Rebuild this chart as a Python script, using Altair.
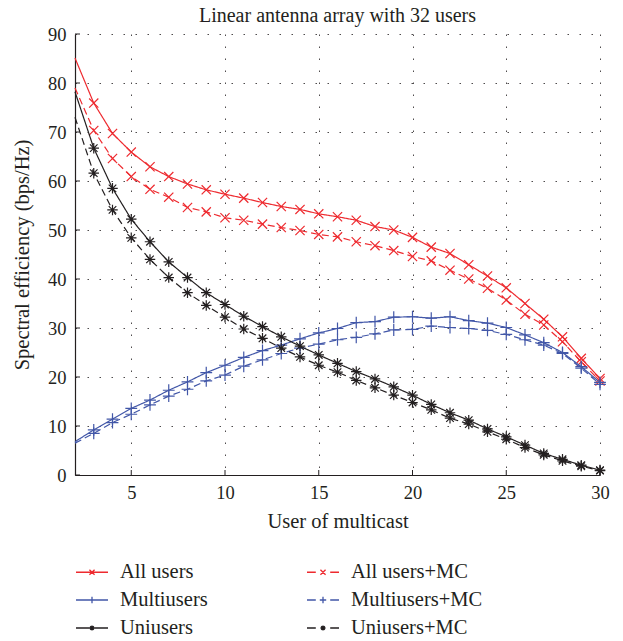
import altair as alt
import pandas as pd

# ---- data ----
users = list(range(2, 31))

series_names = ["All users", "All users+MC", "Multiusers", "Multiusers+MC", "Uniusers", "Uniusers+MC"]

all_users = [85.1, 75.9, 69.7, 65.9, 62.9, 60.9, 59.4, 58.2, 57.3, 56.5, 55.6, 54.8, 54.2, 53.3,
             52.7, 52.0, 50.7, 50.0, 48.5, 46.5, 45.2, 42.9, 40.6, 38.2, 35.0, 31.8, 28.2, 23.8, 19.7]
all_users_mc = [79.0, 70.3, 64.6, 60.9, 58.3, 56.7, 54.6, 53.7, 52.5, 52.0, 51.2, 50.5, 49.9, 49.1,
                48.6, 47.6, 46.8, 45.8, 44.6, 43.7, 41.8, 40.0, 38.1, 35.7, 32.8, 30.6, 27.2, 23.1, 19.2]
multiusers = [6.8, 9.2, 11.4, 13.6, 15.3, 17.3, 19.0, 20.9, 22.4, 24.0, 25.4, 26.5, 27.8, 29.0,
              29.9, 31.1, 31.3, 32.2, 32.3, 32.0, 32.3, 31.5, 31.0, 30.1, 28.6, 27.0, 25.0, 22.1, 18.9]
multiusers_mc = [6.5, 8.5, 10.7, 12.4, 14.3, 16.1, 17.5, 19.2, 20.4, 22.2, 23.5, 24.8, 25.9, 26.7,
                 27.6, 28.1, 28.8, 29.6, 29.7, 30.4, 30.1, 29.9, 29.5, 28.7, 27.6, 26.5, 24.8, 21.8, 18.5]
uniusers = [78.2, 66.7, 58.5, 52.2, 47.6, 43.5, 40.3, 37.2, 34.8, 32.4, 30.3, 28.2, 26.3, 24.5,
            22.8, 21.1, 19.6, 18.0, 16.3, 14.4, 12.7, 11.2, 9.4, 7.8, 6.1, 4.4, 3.2, 2.0, 1.0]
uniusers_mc = [73.0, 61.6, 54.1, 48.4, 44.0, 40.3, 37.2, 34.6, 32.2, 29.8, 27.9, 25.9, 24.1, 22.4,
               21.0, 19.3, 17.8, 16.3, 14.8, 13.3, 11.6, 10.4, 8.8, 7.3, 5.6, 4.1, 2.9, 1.8, 0.9]

x_ticks = [5, 10, 15, 20, 25, 30]
y_ticks = [0, 10, 20, 30, 40, 50, 60, 70, 80, 90]

# ---- styles ----
RED, BLUE, BLACK = "#ee2a2f", "#4257a8", "#231f20"
colors = [RED, RED, BLUE, BLUE, BLACK, BLACK]
dashes = [[1, 0], [7, 4], [1, 0], [7, 4], [1, 0], [7, 4]]
X_M = "M-1,-1L1,1M-1,1L1,-1"
P_M = "M-1,0L1,0M0,-1L0,1"
S_M = "M-1,0L1,0M0,-1L0,1M-0.72,-0.72L0.72,0.72M-0.72,0.72L0.72,-0.72"
markers = [X_M, X_M, P_M, P_M, S_M, S_M]
marker_sizes = [85, 85, 140, 140, 110, 110]


def legend_marker(kind, s=0.16):
    if kind == "x":
        return f"M-{s},-{s}L{s},{s}M-{s},{s}L{s},-{s}"
    if kind == "+":
        s = 0.2
        return f"M-{s},0L{s},0M0,-{s}L0,{s}"
    t = round(0.7 * s, 3)
    return f"M-{s},0L{s},0M0,-{s}L0,{s}M-{t},-{t}L{t},{t}M-{t},{t}L{t},-{t}"


SOLID = "M-1,0L1,0"
DASHED = "M-1,0L-0.45,0M0.45,0L1,0"
legend_paths = [SOLID + legend_marker("x"), DASHED + legend_marker("x"),
                SOLID + legend_marker("+"), DASHED + legend_marker("+"),
                SOLID + legend_marker("*"), DASHED + legend_marker("*")]

values = [all_users, all_users_mc, multiusers, multiusers_mc, uniusers, uniusers_mc]
rows = []
for name, vals in zip(series_names, values):
    for u, v in zip(users, vals):
        rows.append({"user": u, "eff": v, "series": name})
df = pd.DataFrame(rows)

FONT = "Liberation Serif"
TXT = "#231f20"
W, H = 525, 441

xscale = alt.Scale(domain=[2, 30], nice=False, zero=False)
yscale = alt.Scale(domain=[0, 90], nice=False)

xaxis = alt.Axis(values=x_ticks, title="User of multicast", grid=True, tickSize=0,
                 labelPadding=8, titlePadding=10, format="d", labelFlush=False)
yaxis = alt.Axis(values=y_ticks, title="Spectral efficiency (bps/Hz)", grid=True, tickSize=0,
                 labelPadding=9, titlePadding=15, format="d", labelFlush=False)

color_scale = alt.Scale(domain=series_names, range=colors)

base = alt.Chart(df)

layers = []
first = True
for name, col, dsh, shp, sz in zip(series_names, colors, dashes, markers, marker_sizes):
    sub = base.transform_filter(alt.datum.series == name)
    if first:
        xe = alt.X("user:Q", scale=xscale, axis=xaxis)
        ye = alt.Y("eff:Q", scale=yscale, axis=yaxis)
        first = False
    else:
        xe = alt.X("user:Q", scale=xscale)
        ye = alt.Y("eff:Q", scale=yscale)
    layers.append(sub.mark_line(strokeWidth=1.2, color=col, strokeDash=dsh).encode(x=xe, y=ye))
    layers.append(
        sub.transform_filter(alt.datum.user >= 3)
        .mark_point(filled=False, strokeWidth=1.2, opacity=1, shape=shp, size=sz, color=col)
        .encode(x=alt.X("user:Q", scale=xscale), y=alt.Y("eff:Q", scale=yscale))
    )

leg = alt.Legend(
    title=None, orient="none", legendX=0, legendY=521, columns=2, direction="horizontal",
    columnPadding=96, rowPadding=-2, padding=0,
    symbolSize=1024, symbolStrokeWidth=1.3, labelOffset=11,
    labelFont=FONT, labelFontSize=20.5, labelColor=TXT, labelLimit=300,
)

legend_layer = base.transform_filter(alt.datum.user < 0).mark_point(
    filled=False, strokeWidth=1.3, opacity=1, size=1024
).encode(
    x=alt.X("user:Q", scale=xscale),
    y=alt.Y("eff:Q", scale=yscale),
    color=alt.Color("series:N", scale=color_scale, legend=leg),
    shape=alt.Shape("series:N", scale=alt.Scale(domain=series_names, range=legend_paths), legend=leg),
)

xt = pd.DataFrame({"t": x_ticks})
yt = pd.DataFrame({"t": y_ticks})
xtick_marks = alt.Chart(xt).mark_rule(color=TXT, strokeWidth=1).encode(
    x=alt.X("t:Q", scale=xscale), y=alt.value(H), y2=alt.value(H - 5))
ytick_marks = alt.Chart(yt).mark_rule(color=TXT, strokeWidth=1).encode(
    y=alt.Y("t:Q", scale=yscale), x=alt.value(0), x2=alt.value(5))

chart = alt.layer(*layers, legend_layer, xtick_marks, ytick_marks).properties(
    width=W, height=H,
    title=alt.TitleParams("Linear antenna array with 32 users", font=FONT, fontSize=20,
                          fontWeight="normal", color=TXT, frame="group", anchor="middle",
                          offset=-1),
    autosize=alt.AutoSizeParams(type="none"),
    padding={"left": 67, "top": 26, "right": 15, "bottom": 166},
).configure_view(stroke=None).configure_axis(
    labelFont=FONT, labelFontSize=18.5, labelColor=TXT,
    titleFont=FONT, titleFontSize=20.5, titleFontWeight="normal", titleColor=TXT,
    domainColor=TXT, domainWidth=1.2,
    gridColor="#231f20", gridDash=[1.5, 10.5], gridWidth=1, gridOpacity=0.8,
).configure_axisX(labelAngle=0)

chart.save("out.html", embed_options={"renderer": "svg", "actions": False})
